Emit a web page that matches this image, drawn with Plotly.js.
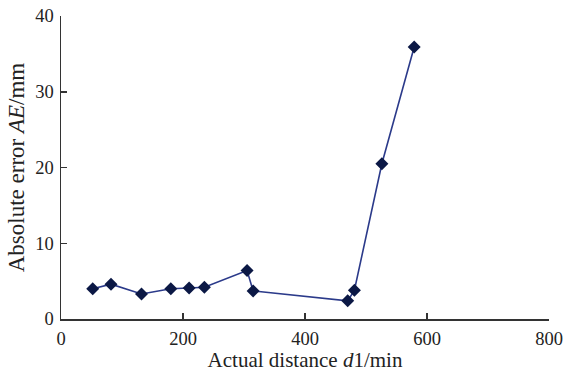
<!DOCTYPE html>
<html>
<head>
<meta charset="utf-8">
<script src="https://cdn.plot.ly/plotly-3.0.1.min.js"></script>
<style>html,body{margin:0;padding:0;background:#fff;}#chart{width:563px;height:372px;}</style>
</head>
<body>
<div id="chart"></div>
<script>
const distance = [52, 82, 132, 180, 210, 235, 305, 315, 470, 481, 526, 579];
const absError = [4.0, 4.6, 3.3, 4.0, 4.1, 4.2, 6.4, 3.7, 2.4, 3.8, 20.5, 35.9];
const xTicks = [0, 200, 400, 600, 800];
const yTicks = [0, 10, 20, 30, 40];

const fam = '"Liberation Serif", "Times New Roman", serif';
const tickFont = {family: fam, size: 18.5, color: '#222'};
const xTitleFont = {family: fam, size: 21, color: '#222'};
const yTitleFont = {family: fam, size: 23, color: '#222'};

Plotly.newPlot('chart', [{
  x: distance,
  y: absError,
  mode: 'lines+markers',
  type: 'scatter',
  line: {color: '#2b3a8a', width: 1.6},
  marker: {symbol: 'diamond', size: 10, color: '#0b1845'}
}], {
  width: 563, height: 372,
  margin: {l: 61, r: 14, t: 16, b: 53},
  paper_bgcolor: '#fff', plot_bgcolor: '#fff',
  showlegend: false,
  font: tickFont,
  xaxis: {
    range: [0, 800], tickvals: xTicks, ticktext: xTicks.map(String),
    showgrid: false, zeroline: false, showline: true, linecolor: '#333', linewidth: 1.5,
    ticks: 'inside', ticklen: 6, tickcolor: '#333', tickwidth: 1.5,
    tickfont: tickFont, ticklabelstandoff: 2, ticklabeloverflow: 'allow',
    title: {text: 'Actual distance <i>d</i>1/min', font: xTitleFont, standoff: 4}
  },
  yaxis: {
    range: [0, 40], tickvals: yTicks, ticktext: yTicks.map(String),
    showgrid: false, zeroline: false, showline: true, linecolor: '#333', linewidth: 1.5,
    ticks: 'inside', ticklen: 6, tickcolor: '#333', tickwidth: 1.5,
    tickfont: tickFont, ticklabelstandoff: 2, ticklabeloverflow: 'allow',
    title: {text: 'Absolute error <i>AE</i>/mm', font: yTitleFont, standoff: 4}
  }
}, {staticPlot: true, displayModeBar: false});
</script>
</body>
</html>
